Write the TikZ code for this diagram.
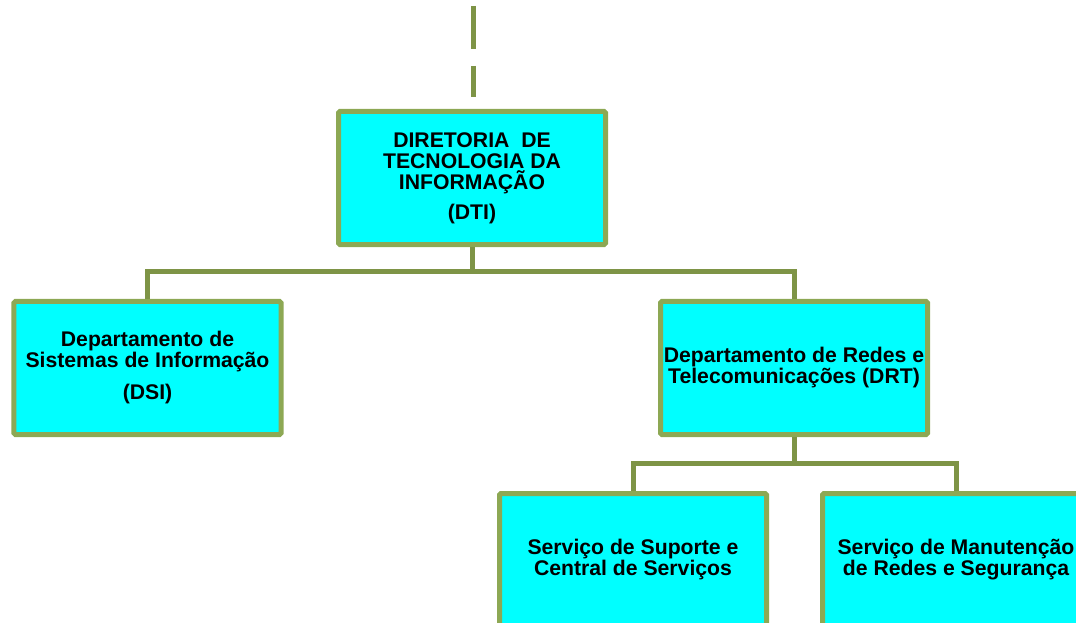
\documentclass[tikz,border=0pt]{standalone}
\usepackage{fontspec}
\setmainfont{Liberation Sans}
\definecolor{boxborder}{RGB}{141,168,84}
\definecolor{linkcol}{RGB}{126,148,70}
\definecolor{boxfill}{RGB}{0,255,255}
\begin{document}
\begin{tikzpicture}[x=1bp,y=-1bp,
  orgbox/.style={draw=boxborder, line width=5bp, fill=boxfill, rounded corners=1.5bp,
    minimum width=267bp, minimum height=133bp, align=center, inner sep=0pt,
    font=\fontsize{21.2bp}{21bp}\selectfont\bfseries},
  link/.style={draw=linkcol, line width=5bp}]
\useasboundingbox (0,0) rectangle (1076,623);
\node[orgbox] (dti) at (472,178) {DIRETORIA\ \ DE\\TECNOLOGIA DA\\INFORMAÇÃO\\[9bp](DTI)};
\node[orgbox] (dsi) at (147.5,368) {Departamento de\\Sistemas de Informação\\[11bp](DSI)};
\node[orgbox] (drt) at (794,368) {Departamento de Redes e\\Telecomunicações (DRT)};
\node[orgbox] (sup) at (633,560) {Serviço de Suporte e\\Central de Serviços};
\node[orgbox] (man) at (956,560) {Serviço de Manutenção\\de Redes e Segurança};
\coordinate (top1) at (473,6);
\coordinate (top2) at (473,97);
\draw[link, dash pattern=on 43bp off 17bp] (top1) -- (top2);
\coordinate (bar1) at (472,272);
\coordinate (bar2) at (794,463);
\draw[link] (dti.south) -- (bar1);
\draw[link] (bar1) -| (dsi.north);
\draw[link] (bar1) -| (drt.north);
\draw[link] (drt.south) -- (bar2);
\draw[link] (bar2) -| (sup.north);
\draw[link] (bar2) -| (man.north);
\end{tikzpicture}
\end{document}
